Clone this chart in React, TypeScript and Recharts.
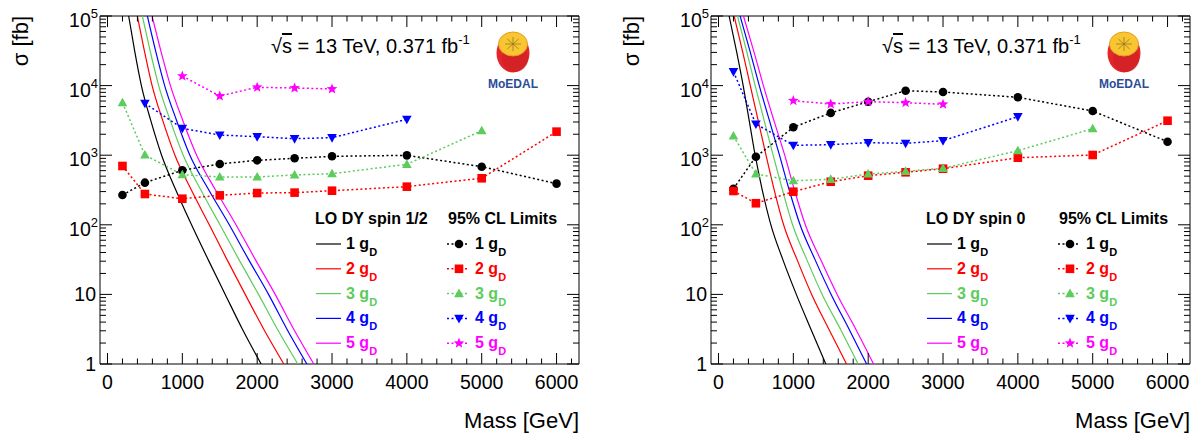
import React from "react";
import { LineChart, Line, XAxis, YAxis, ReferenceArea } from "recharts";

const FONT = "'Liberation Sans', Arial, Helvetica, sans-serif";

// masses where the 95% CL limits were computed (GeV)
const limitMasses = [200, 500, 1000, 1500, 2000, 2500, 3000, 4000, 5000, 6000];

// spin 1/2 limits (fb), one entry per mass
const halfLimit1 = [268, 403, 607, 748, 844, 902, 964, 995, 684, 390];
const halfLimit2 = [700, 277, 237, 265, 286, 290, 309, 353, 466, 2180];
const halfLimit3 = [5690, 1007, 525, 486, 486, 520, 542, 740, 2250, null];
const halfLimit4 = [null, 5560, 2430, 1950, 1845, 1726, 1786, 3275, null, null];
const halfLimit5 = [null, null, 13700, 7090, 9450, 9240, 8940, null, null, null];

// spin 0 limits (fb)
const zeroLimit1 = [330, 950, 2520, 4050, 5870, 8450, 8090, 6790, 4315, 1563];
const zeroLimit2 = [306, 204, 299, 416, 508, 568, 640, 920, 1007, 3130];
const zeroLimit3 = [1888, 537, 430, 450, 537, 587, 648, 1161, 2404, null];
const zeroLimit4 = [15850, 2806, 1387, 1416, 1514, 1480, 1617, 3575, null, null];
const zeroLimit5 = [null, null, 6070, 5440, 5870, 5680, 5390, null, null, null];

// LO Drell-Yan cross sections, read as mass (GeV) at given cross-section levels (fb)
const theoryLevels = [100000, 31600, 10000, 3160, 1000, 316, 100, 31.6, 10, 3.16, 1];

const halfTheory1 = [283, 363, 453, 578, 723, 913, 1123, 1345, 1573, 1803, 2053];
const halfTheory2 = [399, 493, 596, 738, 901, 1121, 1360, 1597, 1840, 2088, 2356];
const halfTheory3 = [466, 570, 684, 838, 1012, 1248, 1503, 1757, 2018, 2271, 2543];
const halfTheory4 = [533, 643, 764, 923, 1101, 1354, 1627, 1886, 2152, 2398, 2664];
const halfTheory5 = [596, 713, 841, 1006, 1191, 1444, 1717, 1976, 2241, 2489, 2757];

const zeroTheory1 = [142, 240, 330, 410, 490, 585, 700, 860, 1040, 1235, 1434];
const zeroTheory2 = [209, 320, 425, 530, 635, 745, 870, 1050, 1245, 1475, 1711];
const zeroTheory3 = [254, 375, 490, 610, 730, 855, 990, 1180, 1385, 1630, 1866];
const zeroTheory4 = [289, 420, 545, 680, 815, 945, 1090, 1290, 1505, 1745, 1979];
const zeroTheory5 = [334, 470, 600, 740, 885, 1015, 1160, 1365, 1585, 1835, 2072];

const seriesLabels = ["1", "2", "3", "4", "5"];
const seriesColors = ["#000000", "#ff0000", "#5ccc5c", "#0000ff", "#ff00ff"];
const seriesShapes = ["circle", "square", "up", "down", "star"];

const xTicks = Array.from({ length: 32 }, (_, i) => i * 200);
const yTicks: number[] = [];
for (let e = 0; e < 5; e++) for (let k = 1; k < 10; k++) yTicks.push(k * Math.pow(10, e));
yTicks.push(100000);

const PLOT_TOP = 16;
const PLOT_BOTTOM = 364;
const PLOT_W = 479;

type Pt = { m: number; v: number };

const limitPoints = (vs: (number | null)[]): Pt[] =>
  limitMasses
    .map((m, i) => ({ m, v: vs[i] as number }))
    .filter((p) => p.v != null);

const theoryPoints = (ms: number[]): Pt[] => ms.map((m, i) => ({ m, v: theoryLevels[i] }));

function Marker({ cx, cy, shape, color }: { cx: number; cy: number; shape: string; color: string }) {
  if (shape === "circle") return <circle cx={cx} cy={cy} r={4.3} fill={color} />;
  if (shape === "square") return <rect x={cx - 4.3} y={cy - 4.3} width={8.6} height={8.6} fill={color} />;
  if (shape === "up")
    return <polygon points={`${cx},${cy - 5} ${cx - 4.8},${cy + 3.6} ${cx + 4.8},${cy + 3.6}`} fill={color} />;
  if (shape === "down")
    return <polygon points={`${cx},${cy + 5} ${cx - 4.8},${cy - 3.6} ${cx + 4.8},${cy - 3.6}`} fill={color} />;
  const pts: string[] = [];
  for (let i = 0; i < 10; i++) {
    const r = i % 2 === 0 ? 5.6 : 2.4;
    const a = -Math.PI / 2 + (i * Math.PI) / 5;
    pts.push(`${cx + r * Math.cos(a)},${cy + r * Math.sin(a)}`);
  }
  return <polygon points={pts.join(" ")} fill={color} />;
}

const xTick = (props: any) => {
  const { x, payload } = props;
  const v = payload.value;
  const major = v % 1000 === 0;
  const len = major ? 11 : 5.5;
  return (
    <g>
      <line x1={x} x2={x} y1={PLOT_BOTTOM} y2={PLOT_BOTTOM - len} stroke="#000" strokeWidth={1} />
      <line x1={x} x2={x} y1={PLOT_TOP} y2={PLOT_TOP + len} stroke="#000" strokeWidth={1} />
      {major && (
        <text x={x} y={PLOT_BOTTOM + 25} textAnchor="middle" fontFamily={FONT} fontSize={19.5} fill="#000">
          {v}
        </text>
      )}
    </g>
  );
};

const makeYTick = (plotLeft: number, plotRight: number) => (props: any) => {
  const { y, payload } = props;
  const v = payload.value;
  const e = Math.round(Math.log10(v));
  const major = Math.abs(v - Math.pow(10, e)) < 1e-6;
  const len = major ? 12 : 6;
  let label = null;
  if (major) {
    label =
      e <= 1 ? (
        <text x={plotLeft - 4} y={y + 7} textAnchor="end" fontFamily={FONT} fontSize={19.5} fill="#000">
          {v}
        </text>
      ) : (
        <text x={plotLeft - 2} y={y + 11} textAnchor="end" fontFamily={FONT} fontSize={19.5} fill="#000">
          10
          <tspan dy={-9} fontSize={13}>
            {e}
          </tspan>
        </text>
      );
  }
  return (
    <g>
      <line x1={plotLeft} x2={plotLeft + len} y1={y} y2={y} stroke="#000" strokeWidth={1} />
      <line x1={plotRight} x2={plotRight - len} y1={y} y2={y} stroke="#000" strokeWidth={1} />
      {label}
    </g>
  );
};

function Panel({
  offsetX,
  plotLeft,
  theory,
  limits,
}: {
  offsetX: number;
  plotLeft: number;
  theory: number[][];
  limits: (number | null)[][];
}) {
  const plotRight = plotLeft + PLOT_W;
  return (
    <div style={{ position: "absolute", left: offsetX, top: 0 }}>
      <LineChart
        width={600}
        height={442}
        margin={{ top: PLOT_TOP, right: 600 - plotRight, bottom: 48, left: plotLeft - 60 }}
      >
        <XAxis
          type="number"
          dataKey="m"
          domain={[-100, 6300]}
          ticks={xTicks}
          interval={0}
          tick={xTick}
          tickLine={false}
          axisLine={false}
          tickSize={0}
          tickMargin={0}
          height={30}
        />
        <YAxis
          type="number"
          dataKey="v"
          scale="log"
          domain={[1, 100000]}
          allowDataOverflow
          ticks={yTicks}
          interval={0}
          tick={makeYTick(plotLeft, plotRight)}
          tickLine={false}
          axisLine={false}
          tickSize={0}
          tickMargin={0}
          width={60}
        />
        <ReferenceArea x1={-100} x2={6300} y1={1} y2={100000} fill="none" stroke="#000" strokeWidth={1} />
        {theory.map((ms, i) => (
          <Line
            key={`th${i}`}
            data={theoryPoints(ms)}
            dataKey="v"
            type="monotone"
            stroke={seriesColors[i]}
            strokeWidth={1.2}
            dot={false}
            activeDot={false}
            isAnimationActive={false}
          />
        ))}
        {limits.map((vs, i) => (
          <Line
            key={`lim${i}`}
            data={limitPoints(vs)}
            dataKey="v"
            type="linear"
            stroke={seriesColors[i]}
            strokeWidth={1.5}
            strokeDasharray="2 2.5"
            dot={(p: any) => (
              <Marker key={`d${i}-${p.index}`} cx={p.cx} cy={p.cy} shape={seriesShapes[i]} color={seriesColors[i]} />
            )}
            activeDot={false}
            isAnimationActive={false}
          />
        ))}
      </LineChart>
    </div>
  );
}

function Logo({ cx }: { cx: number }) {
  const rays = Array.from({ length: 8 }, (_, i) => (i * Math.PI) / 4);
  return (
    <g>
      <ellipse cx={cx} cy={53} rx={16.5} ry={19.5} fill="#e3262a" />
      <ellipse cx={cx + 2} cy={59} rx={13} ry={13} fill="#c81e24" opacity={0.5} />
      <ellipse cx={cx} cy={44} rx={14.5} ry={12} fill="#f8c630" stroke="#ec9a28" strokeWidth={1} />
      {rays.map((a, i) => (
        <line
          key={i}
          x1={cx}
          y1={44}
          x2={cx + 8 * Math.cos(a)}
          y2={44 + 7 * Math.sin(a)}
          stroke="#8c7020"
          strokeWidth={0.7}
        />
      ))}
      <text x={cx} y={87.5} textAnchor="middle" fontFamily={FONT} fontWeight="bold" fontSize={12} fill="#2b4d98">
        MoEDAL
      </text>
    </g>
  );
}

function Texts({ dx, header }: { dx: number; header: string }) {
  return (
    <g fontFamily={FONT}>
      <text transform={`translate(${28 + dx},16) rotate(-90)`} textAnchor="end" fontSize={22} fill="#000">
        σ [fb]
      </text>
      <text x={579 + dx} y={428} textAnchor="end" fontSize={22} fill="#000">
        Mass [GeV]
      </text>
      <text x={271 + dx} y={53} fontSize={20} fill="#000">
        √<tspan style={{ textDecoration: "overline" }}>s</tspan> = 13 TeV, 0.371 fb
        <tspan dy={-9} fontSize={13}>
          -1
        </tspan>
      </text>
      <Logo cx={513 + dx} />
      <text x={315 + dx} y={224} fontSize={16} fontWeight="bold" fill="#000">
        {header}
      </text>
      <text x={448 + dx} y={224} fontSize={16} fontWeight="bold" fill="#000">
        95% CL Limits
      </text>
      {seriesLabels.map((lab, i) => {
        const y = 244 + i * 24.8;
        const c = seriesColors[i];
        const t = (x: number) => (
          <text x={x} y={y + 5} fontSize={16} fontWeight="bold" fill={c}>
            {lab} g
            <tspan dy={7} fontSize={11}>
              D
            </tspan>
          </text>
        );
        return (
          <g key={lab}>
            <line x1={316 + dx} x2={341 + dx} y1={y} y2={y} stroke={c} strokeWidth={1.2} />
            {t(346 + dx)}
            <line x1={447 + dx} x2={467 + dx} y1={y} y2={y} stroke={c} strokeWidth={1.5} strokeDasharray="2 2.5" />
            <Marker cx={459 + dx} cy={y} shape={seriesShapes[i]} color={c} />
            {t(475 + dx)}
          </g>
        );
      })}
    </g>
  );
}

export default function App() {
  return (
    <div style={{ position: "absolute", left: 0, top: 0, width: 1200, height: 442, background: "#fff" }}>
      <Panel
        offsetX={0}
        plotLeft={100}
        theory={[halfTheory1, halfTheory2, halfTheory3, halfTheory4, halfTheory5]}
        limits={[halfLimit1, halfLimit2, halfLimit3, halfLimit4, halfLimit5]}
      />
      <Panel
        offsetX={600}
        plotLeft={111}
        theory={[zeroTheory1, zeroTheory2, zeroTheory3, zeroTheory4, zeroTheory5]}
        limits={[zeroLimit1, zeroLimit2, zeroLimit3, zeroLimit4, zeroLimit5]}
      />
      <svg
        width={1200}
        height={442}
        style={{ position: "absolute", left: 0, top: 0, pointerEvents: "none" }}
      >
        <Texts dx={0} header="LO DY spin 1/2" />
        <Texts dx={611} header="LO DY spin 0" />
      </svg>
    </div>
  );
}
